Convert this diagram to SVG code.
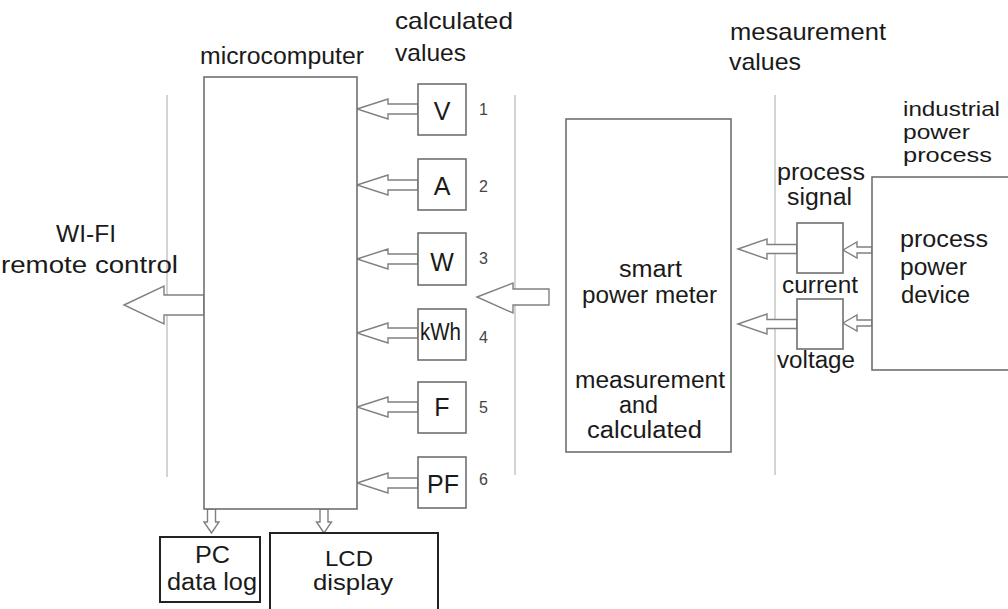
<svg xmlns="http://www.w3.org/2000/svg" width="1008" height="609" viewBox="0 0 1008 609">
<style>
  text{font-family:"Liberation Sans",Arial,sans-serif;fill:#1a1a1a;font-size:23px}
  .lbl{font-size:24px}
  .big{font-size:25px}
  .tight{font-size:21px}
  .mid{font-size:22px}
  .num{font-size:16px;fill:#444}
  .box{fill:#fff;stroke:#707070;stroke-width:1.6}
  .bbox{fill:#fff;stroke:#222;stroke-width:2}
  .guide{stroke:#d4d4d4;stroke-width:2;fill:none}
  .arr{fill:#fff;stroke:#808080;stroke-width:1.4;stroke-linejoin:miter}
</style>
<defs>
  <path id="calcArrow" d="M0,0 L31,-10 L31,-5 L61,-5 L61,5 L31,5 L31,10 Z"/>
  <path id="sigArrow" d="M0,0 L29,-10 L29,-4.5 L59,-4.5 L59,4.5 L29,4.5 L29,10 Z"/>
  <path id="devArrow" d="M0,0 L14,-8 L14,-3 L29,-3 L29,3 L14,3 L14,8 Z"/>
  <path id="downArrow" d="M0,0 L-7.5,-11 L-4,-11 L-4,-24 L4,-24 L4,-11 L7.5,-11 Z"/>
</defs>

<g id="guides">
  <line class="guide" x1="167" y1="95" x2="167" y2="477"/>
  <line class="guide" x1="515" y1="95" x2="515" y2="475"/>
  <line class="guide" x1="775" y1="95" x2="775" y2="475"/>
</g>

<g id="connectors">
  <use href="#calcArrow" class="arr" x="357" y="109"/>
  <use href="#calcArrow" class="arr" x="357" y="185"/>
  <use href="#calcArrow" class="arr" x="357" y="259"/>
  <use href="#calcArrow" class="arr" x="357" y="333"/>
  <use href="#calcArrow" class="arr" x="357" y="407"/>
  <use href="#calcArrow" class="arr" x="357" y="483"/>
  <path class="arr" d="M124,305 L164,286 L164,295 L204,295 L204,315 L164,315 L164,324 Z"/>
  <path class="arr" d="M477,297 L513,283 L513,289 L549,289 L549,305 L513,305 L513,313 Z"/>
  <use href="#sigArrow" class="arr" x="738" y="249"/>
  <use href="#sigArrow" class="arr" x="738" y="324"/>
  <use href="#devArrow" class="arr" x="843" y="250"/>
  <use href="#devArrow" class="arr" x="843" y="323"/>
  <use href="#downArrow" class="arr" x="211.5" y="533"/>
  <use href="#downArrow" class="arr" x="324" y="533"/>
</g>

<g id="microcomputer">
  <rect class="box" x="204" y="77" width="153" height="432"/>
  <text x="200" y="64" textLength="164" lengthAdjust="spacingAndGlyphs">microcomputer</text>
</g>

<g id="calc-label">
  <text class="lbl" x="395" y="29" textLength="118" lengthAdjust="spacingAndGlyphs">calculated</text>
  <text class="lbl" x="395" y="61" textLength="71" lengthAdjust="spacingAndGlyphs">values</text>
</g>

<g id="node-V">
  <rect class="box" x="418" y="84" width="48" height="51"/>
  <text class="big" x="442" y="120" text-anchor="middle">V</text>
  <text class="num" x="479" y="115">1</text>
</g>
<g id="node-A">
  <rect class="box" x="418" y="159" width="48" height="51"/>
  <text class="big" x="442" y="195" text-anchor="middle">A</text>
  <text class="num" x="479" y="192">2</text>
</g>
<g id="node-W">
  <rect class="box" x="418" y="233" width="48" height="52"/>
  <text class="big" x="442" y="271" text-anchor="middle">W</text>
  <text class="num" x="479" y="264">3</text>
</g>
<g id="node-kWh">
  <rect class="box" x="418" y="309" width="48" height="51"/>
  <text x="420" y="340" font-size="19" textLength="41" lengthAdjust="spacingAndGlyphs">kWh</text>
  <text class="num" x="479" y="343">4</text>
</g>
<g id="node-F">
  <rect class="box" x="418" y="382" width="48" height="51"/>
  <text class="big" x="442" y="416" text-anchor="middle">F</text>
  <text class="num" x="479" y="413">5</text>
</g>
<g id="node-PF">
  <rect class="box" x="418" y="457" width="48" height="51"/>
  <text class="big" x="443" y="493" text-anchor="middle">PF</text>
  <text class="num" x="479" y="485">6</text>
</g>

<g id="wifi-label">
  <text x="56" y="242" textLength="60" lengthAdjust="spacingAndGlyphs">WI-FI</text>
  <text x="1" y="273" textLength="177" lengthAdjust="spacingAndGlyphs">remote control</text>
</g>

<g id="pc-datalog">
  <rect class="bbox" x="160" y="537" width="100" height="65"/>
  <text x="195" y="563" textLength="35" lengthAdjust="spacingAndGlyphs">PC</text>
  <text x="167" y="590" textLength="90" lengthAdjust="spacingAndGlyphs">data log</text>
</g>

<g id="lcd-display">
  <rect class="bbox" x="270" y="533" width="168" height="90"/>
  <text class="mid" x="325" y="566" textLength="48" lengthAdjust="spacingAndGlyphs">LCD</text>
  <text class="mid" x="313" y="590" textLength="80" lengthAdjust="spacingAndGlyphs">display</text>
</g>

<g id="smart-power-meter">
  <rect class="box" x="566" y="119" width="165" height="333"/>
  <text x="619" y="277" textLength="63" lengthAdjust="spacingAndGlyphs">smart</text>
  <text x="582" y="303" textLength="135" lengthAdjust="spacingAndGlyphs">power meter</text>
  <text x="575" y="388" textLength="150" lengthAdjust="spacingAndGlyphs">measurement</text>
  <text x="619" y="413" textLength="39" lengthAdjust="spacingAndGlyphs">and</text>
  <text x="587" y="438" textLength="115" lengthAdjust="spacingAndGlyphs">calculated</text>
</g>

<g id="meas-label">
  <text class="lbl" x="730" y="40" textLength="156" lengthAdjust="spacingAndGlyphs">mesaurement</text>
  <text class="lbl" x="729" y="70" textLength="72" lengthAdjust="spacingAndGlyphs">values</text>
</g>

<g id="current-signal">
  <rect class="box" x="797" y="223" width="46" height="50"/>
  <text x="777" y="180" textLength="88" lengthAdjust="spacingAndGlyphs">process</text>
  <text x="787" y="205" textLength="65" lengthAdjust="spacingAndGlyphs">signal</text>
  <text x="782" y="293" textLength="76" lengthAdjust="spacingAndGlyphs">current</text>
</g>

<g id="voltage-signal">
  <rect class="box" x="797" y="299" width="46" height="50"/>
  <text x="777" y="368" textLength="78" lengthAdjust="spacingAndGlyphs">voltage</text>
</g>

<g id="industrial-label">
  <text class="tight" x="903" y="116" textLength="97" lengthAdjust="spacingAndGlyphs">industrial</text>
  <text class="tight" x="903" y="139" textLength="67" lengthAdjust="spacingAndGlyphs">power</text>
  <text class="tight" x="903" y="162" textLength="89" lengthAdjust="spacingAndGlyphs">process</text>
</g>

<g id="process-power-device">
  <rect class="box" x="872" y="177" width="160" height="193"/>
  <text x="900" y="247" textLength="88" lengthAdjust="spacingAndGlyphs">process</text>
  <text x="900" y="275" textLength="67" lengthAdjust="spacingAndGlyphs">power</text>
  <text x="901" y="303" textLength="69" lengthAdjust="spacingAndGlyphs">device</text>
</g>
</svg>
